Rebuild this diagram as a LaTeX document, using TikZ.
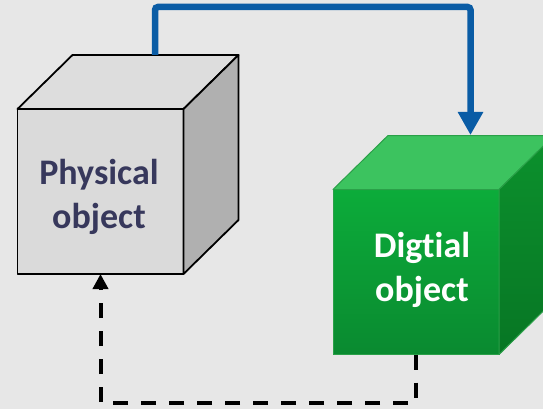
\documentclass[tikz,border=0pt]{standalone}
\usepackage{fontspec}
\setmainfont{Carlito}[Ligatures=NoCommon]
\usetikzlibrary{arrows.meta}
\definecolor{bg}{RGB}{231,231,231}
\definecolor{grayfront}{RGB}{218,218,218}
\definecolor{graytop}{RGB}{221,221,221}
\definecolor{grayside}{RGB}{176,176,176}
\definecolor{navytext}{RGB}{55,56,92}
\definecolor{gtop}{RGB}{60,195,95}
\definecolor{gfronttop}{RGB}{12,172,58}
\definecolor{gfrontbot}{RGB}{10,138,48}
\definecolor{gsidetop}{RGB}{12,145,45}
\definecolor{gsidebot}{RGB}{7,118,36}
\definecolor{gline}{RGB}{42,160,72}
\definecolor{bluearrow}{RGB}{10,92,165}
\tikzset{
  grayface/.style={draw=black, line width=1.8pt, line join=round},
  greenface/.style={draw=gline, line width=1pt, line join=round},
  front/.style={minimum width=166pt, minimum height=165pt, inner sep=0pt, outer sep=0pt},
  cubetext/.style={font=\bfseries\fontsize{36}{44}\selectfont, align=center, inner sep=0pt},
  blueflow/.style={draw=bluearrow, line width=6.5pt, rounded corners=3pt, -{Triangle[width=24pt,length=23pt]}},
  dashflow/.style={draw=black, line width=4pt, dash pattern=on 15.5pt off 12.5pt, -{Triangle[width=15pt,length=15pt]}}
}
\begin{document}
\begin{tikzpicture}[x=1pt,y=-1pt]
\fill[bg] (0,0) rectangle (543,409);
\useasboundingbox (0,0) rectangle (543,409);
\clip (0,0) rectangle (543,409);
% physical cube
\node[front, grayface, fill=grayfront] (phys) at (100.5,191.5) {};
\filldraw[grayface, fill=graytop] (phys.north west) -- ++(55,-54) -- ++(166,0) -- (phys.north east) -- cycle;
\filldraw[grayface, fill=grayside] (phys.north east) -- ++(55,-54) -- ++(0,165) -- (phys.south east) -- cycle;
\node[cubetext, text=navytext] (ptext) at (99,197) {Physical\\object};
% digital cube
\node[front, greenface, top color=gfronttop, bottom color=gfrontbot] (dig) at (416,272) {};
\filldraw[greenface, fill=gtop] (dig.north west) -- ++(55,-54) -- ++(166,0) -- (dig.north east) -- cycle;
\filldraw[greenface, top color=gsidetop, bottom color=gsidebot] (dig.north east) -- ++(55,-54) -- ++(0,165) -- (dig.south east) -- cycle;
\node[cubetext, text=white] (dtext) at (422,270) {Digtial\\object};
% connectors
\coordinate (pout) at (155,55);
\coordinate (din) at (470.5,135);
\draw[blueflow] (pout) -- (155,7) -| (din);
\draw[dashflow] (dig.south) -- ++(0,48) -| (phys.south);
\end{tikzpicture}
\end{document}
